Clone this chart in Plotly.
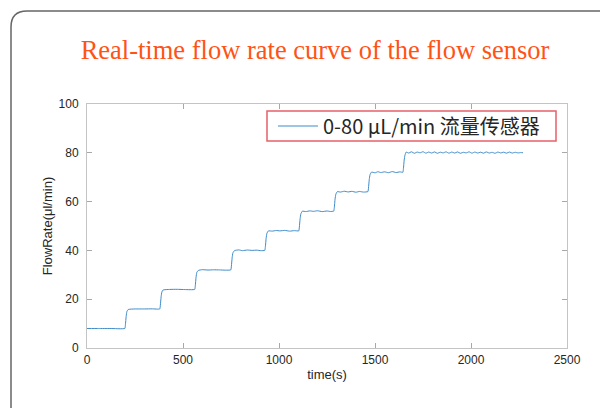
import plotly.graph_objects as go

# ---- data ----
time_s = [0, 60, 120, 197,
          200, 204, 208, 215, 250, 300, 340, 379,
          382, 386, 390, 397, 430, 470, 510, 561,
          564, 568, 572, 580, 600, 630, 660, 690, 720, 749,
          752, 756, 760, 768, 790, 810, 835, 860, 885, 905, 926,
          929, 933, 937, 945, 965, 985, 1005, 1030, 1055, 1080, 1103,
          1106, 1110, 1114, 1122, 1140, 1160, 1180, 1200, 1225, 1250, 1268, 1285,
          1288, 1292, 1296, 1304, 1320, 1340, 1360, 1380, 1400, 1420, 1440, 1463,
          1466, 1470, 1474, 1482, 1500, 1515, 1530, 1550, 1570, 1590, 1610, 1630, 1645,
          1648, 1652, 1656, 1662, 1675, 1690, 1705, 1720, 1735, 1750, 1765, 1780,
          1795, 1810, 1825, 1840, 1855, 1870, 1885, 1900, 1915, 1930, 1945, 1960,
          1975, 1990, 2005, 2020, 2035, 2050, 2065, 2080, 2095, 2110, 2125, 2140,
          2155, 2170, 2185, 2200, 2215, 2230, 2245, 2260, 2271]
flow = [8.0, 8.0, 8.0, 8.0,
        9.5, 13.0, 15.0, 15.8, 16.0, 16.0, 16.05, 16.0,
        17.5, 21.0, 23.0, 23.8, 24.0, 24.05, 23.95, 24.0,
        25.5, 29.0, 31.0, 31.8, 32.1, 31.95, 32.05, 32.0, 31.9, 32.0,
        33.5, 37.0, 39.0, 39.9, 40.2, 39.9, 40.15, 40.0, 40.1, 39.9, 40.0,
        41.5, 45.0, 47.0, 48.0, 47.9, 48.15, 48.0, 48.2, 47.9, 48.1, 48.0,
        49.5, 53.0, 55.0, 56.1, 55.9, 56.2, 56.0, 56.25, 55.9, 56.15, 55.95, 56.1,
        57.5, 61.0, 63.0, 64.1, 63.9, 64.25, 63.95, 64.2, 63.85, 64.15, 63.9, 64.1,
        65.5, 69.0, 71.0, 72.1, 71.8, 72.25, 71.9, 72.2, 71.85, 72.3, 71.9, 72.2, 72.0,
        73.5, 77.0, 79.0, 80.3, 79.9, 80.4, 79.8, 80.3, 80.0, 80.45, 79.85, 80.3,
        79.9, 80.35, 79.8, 80.25, 79.95, 80.4, 79.85, 80.3, 79.9, 80.35, 79.8, 80.2,
        79.95, 80.4, 79.85, 80.3, 79.9, 80.25, 79.85, 80.35, 79.9, 80.2, 79.8, 80.3,
        79.95, 80.25, 79.85, 80.3, 79.9, 80.2, 79.95, 80.1, 80.0]
series_name = "0-80 μL/min 流量传感器"
x_ticks = [0, 500, 1000, 1500, 2000, 2500]
y_ticks = [0, 20, 40, 60, 80, 100]
title_text = "Real-time flow rate curve of the flow sensor"

# ---- layout geometry (pixels, figure coords; page body adds an 8px offset) ----
W, H = 600, 400
L, R, T, B = 79, 559, 96, 340


def px(x):
    return (x - L) / (R - L)


def py(y):
    return (B - y) / (B - T)


fig = go.Figure()
fig.add_trace(go.Scatter(x=time_s, y=flow, mode="lines", name=series_name,
                         line=dict(color="#3d8bc9", width=1, shape="spline", smoothing=0.4),
                         showlegend=True))

axis_common = dict(showgrid=False, zeroline=False, showline=True, linecolor="#c4c4c4",
                   linewidth=1, mirror="ticks", ticks="inside", ticklen=5,
                   tickcolor="#a8a8a8", tickwidth=1,
                   tickfont=dict(family="Liberation Sans, Arial", size=12, color="#262626"),
                   title_font=dict(family="Liberation Sans, Arial", size=13, color="#262626"))

fig.update_xaxes(range=[0, 2500], tickvals=x_ticks, title_text="time(s)",
                 title_standoff=3, ticklabelstandoff=1, **axis_common)
fig.update_yaxes(range=[0, 100], tickvals=y_ticks, title_text="FlowRate(μl/min)",
                 title_standoff=3, ticklabelstandoff=5, **axis_common)

card = (f"M {px(3)},{py(430)} L {px(3)},{py(19)} "
        f"Q {px(3)},{py(3)} {px(19)},{py(3)} L {px(640)},{py(3)}")

fig.update_layout(
    width=W, height=H,
    margin=dict(l=L, r=W - R, t=T, b=H - B, pad=0),
    paper_bgcolor="white", plot_bgcolor="white",
    title=dict(text=title_text, x=307 / W, xanchor="center", y=1 - 41.5 / H, yanchor="middle",
               font=dict(family="Liberation Serif, Times New Roman", size=26.5, color="#FF5316")),
    legend=dict(x=px(265), y=py(118), xanchor="left", yanchor="middle",
                bgcolor="rgba(0,0,0,0)", borderwidth=0, itemwidth=40,
                font=dict(family="Noto Sans CJK SC", size=20, color="#262626")),
    shapes=[
        dict(type="path", path=card, xref="paper", yref="paper",
             line=dict(color="#666666", width=1.5), layer="below"),
        dict(type="rect", xref="paper", yref="paper", x0=px(259), x1=px(548),
             y0=py(133), y1=py(103), line=dict(color="#E8606A", width=1.5),
             fillcolor="white", layer="below"),
    ],
)

fig.write_html("out.html")
